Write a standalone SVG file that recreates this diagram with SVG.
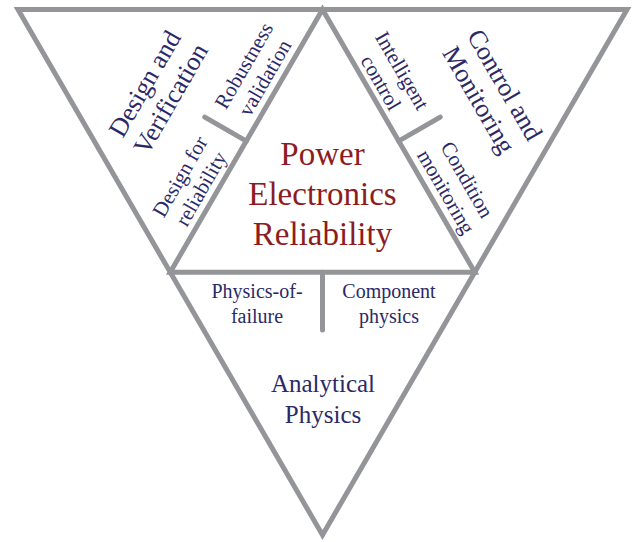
<svg xmlns="http://www.w3.org/2000/svg" width="632" height="542" viewBox="0 0 632 542">
<style>
.frame{fill:none;stroke:#939598;stroke-width:5;stroke-linejoin:miter;stroke-miterlimit:10}
.tick{stroke:#939598;stroke-width:5;stroke-linecap:round;fill:none}
text{font-family:"Liberation Serif","Times New Roman",serif;text-anchor:middle}
.big{font-size:26px;fill:#2b2966}
.small{font-size:20px;fill:#2b2966}
.rsmall{font-size:21px;fill:#2b2966}
.center{font-size:33px;fill:#8c1c21}
.ana{font-size:25px;fill:#2b2966}
</style>
<rect width="632" height="542" fill="#ffffff"/>
<g id="connectors">
<polygon class="frame" points="18,9.5 627,9.5 322.5,535"/>
<polygon class="frame" points="322.5,9.5 170.25,272.25 474.75,272.25"/>
<line class="tick" x1="246.4" y1="141.1" x2="204.8" y2="117.1"/>
<line class="tick" x1="398.6" y1="141.1" x2="440.2" y2="117.1"/>
<line class="tick" x1="322.5" y1="272.25" x2="322.5" y2="330"/>
</g>
<g id="power-electronics-reliability">
<text class="center" x="322.5" y="165">Power</text>
<text class="center" x="322.5" y="205">Electronics</text>
<text class="center" x="322.5" y="245">Reliability</text>
</g>
<g id="design-and-verification" transform="translate(158,91.5) rotate(-60)">
<text class="big" x="0" y="-6.7">Design and</text>
<text class="big" x="0" y="23.3">Verification</text>
</g>
<g id="robustness-validation" transform="translate(255,72) rotate(-60)">
<text class="rsmall" x="0" y="-5.8">Robustness</text>
<text class="rsmall" x="0" y="18.6">validation</text>
</g>
<g id="design-for-reliability" transform="translate(191,183) rotate(-60)">
<text class="rsmall" x="0" y="-5.8">Design for</text>
<text class="rsmall" x="0" y="18.6">reliability</text>
</g>
<g id="control-and-monitoring" transform="translate(491.5,92.5) rotate(60)">
<text class="big" x="0" y="-6.7">Control and</text>
<text class="big" x="0" y="23.3">Monitoring</text>
</g>
<g id="intelligent-control" transform="translate(391,77) rotate(60)">
<text class="rsmall" x="0" y="-5.8">Intelligent</text>
<text class="rsmall" x="0" y="18.6">control</text>
</g>
<g id="condition-monitoring" transform="translate(456,186) rotate(60)">
<text class="rsmall" x="0" y="-5.8">Condition</text>
<text class="rsmall" x="0" y="18.6">monitoring</text>
</g>
<g id="physics-of-failure">
<text class="small" x="257" y="298">Physics-of-</text>
<text class="small" x="257" y="323">failure</text>
</g>
<g id="component-physics">
<text class="small" x="389" y="298">Component</text>
<text class="small" x="389" y="323">physics</text>
</g>
<g id="analytical-physics">
<text class="ana" x="323" y="392">Analytical</text>
<text class="ana" x="323" y="423">Physics</text>
</g>
</svg>
